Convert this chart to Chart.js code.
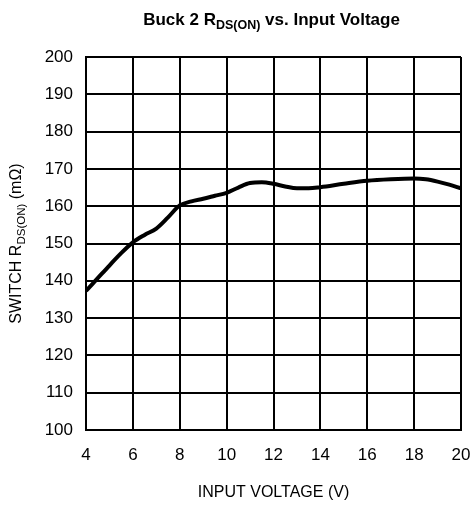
<!DOCTYPE html>
<html lang="en">
<head>
    <meta charset="UTF-8">
    <title>Buck 2 RDS(ON) vs. Input Voltage</title>
    <style>
        /* plain white page, chart fills the window */
        body {
            margin: 0px;
            background: white;
        }
        .box {
            width: 472px;
            height: 505px;
        }
    </style>
</head>
<body>

<div class="box">
    <canvas id="graph1" width="472" height="505"></canvas>
</div>

<script src="https://cdn.jsdelivr.net/npm/chart.js"></script>

<script>
    // values
    const voltage = [4, 4.5, 5, 5.5, 6, 6.5, 7, 7.5, 8, 8.5, 9, 9.5, 10, 10.5, 11, 11.5,
        12, 12.5, 13, 13.5, 14, 15, 16, 17, 18, 18.5, 19, 19.5, 20];
    const rdson = [137.3, 140.7, 144.1, 147.4, 150.3, 152.3, 154, 157, 160.2, 161.3, 162, 162.8,
        163.6, 165, 166.2, 166.4, 166, 165.3, 164.8, 164.8, 165.1, 166, 166.8, 167.2, 167.4,
        167.2, 166.6, 165.8, 164.8];

    const xTicks = [4, 6, 8, 10, 12, 14, 16, 18, 20];
    const yTicks = [100, 110, 120, 130, 140, 150, 160, 170, 180, 190, 200];

    const points = voltage.map(function (v, i) { return {x: v, y: rdson[i]}; });

    // draws text with a subscript part: [text, isSub] pieces
    function drawPieces(ctx, pieces, size, subSize, weight) {
        let total = 0;
        pieces.forEach(function (p) {
            ctx.font = weight + ' ' + (p[1] ? subSize : size) + 'px "Liberation Sans", Arial, sans-serif';
            total += ctx.measureText(p[0]).width;
        });
        let x = -total / 2;
        pieces.forEach(function (p) {
            ctx.font = weight + ' ' + (p[1] ? subSize : size) + 'px "Liberation Sans", Arial, sans-serif';
            ctx.fillText(p[0], x, p[1] ? size * 0.3 : 0);
            x += ctx.measureText(p[0]).width;
        });
    }

    const labelsPlugin = {
        id: 'labelsPlugin',
        afterDraw: function (chart) {
            const ctx = chart.ctx;
            const area = chart.chartArea;
            const cx = (area.left + area.right) / 2;
            const cy = (area.top + area.bottom) / 2;
            ctx.save();
            ctx.fillStyle = '#000';
            ctx.textAlign = 'left';
            ctx.textBaseline = 'middle';

            // title
            ctx.save();
            ctx.translate(cx - 2, 20);
            drawPieces(ctx, [['Buck 2 R', false], ['DS(ON)', true], [' vs. Input Voltage', false]], 17, 12.5, 'bold');
            ctx.restore();

            // x axis title
            ctx.save();
            ctx.translate(cx, 493);
            drawPieces(ctx, [['INPUT VOLTAGE (V)', false]], 16, 11, 'normal');
            ctx.restore();

            // y axis title
            ctx.save();
            ctx.translate(17, cy);
            ctx.rotate(-Math.PI / 2);
            drawPieces(ctx, [['SWITCH R', false], ['DS(ON)', true], [' (m\u03A9)', false]], 16, 11.5, 'normal');
            ctx.restore();

            ctx.restore();
        }
    };

    const config = {
        type: 'line',
        data: {
            datasets: [{
                label: 'RDS(ON)',
                data: points,
                borderColor: '#000',
                borderWidth: 4,
                pointRadius: 0,
                tension: 0.4,
                cubicInterpolationMode: 'monotone',
                fill: false
            }]
        },
        options: {
            responsive: false,
            animation: false,
            layout: {
                padding: {left: 0, top: 57, right: 11, bottom: 0}
            },
            plugins: {
                legend: {display: false},
                tooltip: {enabled: false}
            },
            scales: {
                x: {
                    type: 'linear',
                    min: 4,
                    max: 20,
                    afterFit: function (scale) {
                        scale.height = 75;
                        scale.paddingLeft = 0;
                        scale.paddingRight = 0;
                    },
                    afterBuildTicks: function (scale) {
                        scale.ticks = xTicks.map(function (v) { return {value: v}; });
                    },
                    grid: {color: '#000', lineWidth: 2, drawTicks: false},
                    border: {display: true, color: '#000', width: 2},
                    ticks: {
                        color: '#000',
                        padding: 15,
                        maxRotation: 0,
                        font: {family: '"Liberation Sans", Arial, sans-serif', size: 17}
                    }
                },
                y: {
                    min: 100,
                    max: 200,
                    afterFit: function (scale) {
                        scale.width = 86;
                        scale.paddingTop = 0;
                        scale.paddingBottom = 0;
                    },
                    afterBuildTicks: function (scale) {
                        scale.ticks = yTicks.map(function (v) { return {value: v}; });
                    },
                    grid: {color: '#000', lineWidth: 2, drawTicks: false},
                    border: {display: true, color: '#000', width: 2},
                    ticks: {
                        color: '#000',
                        padding: 13,
                        font: {family: '"Liberation Sans", Arial, sans-serif', size: 17}
                    }
                }
            }
        },
        plugins: [labelsPlugin]
    };

    let graph1 = new Chart(document.getElementById('graph1'), config);
</script>

</body>
</html>
